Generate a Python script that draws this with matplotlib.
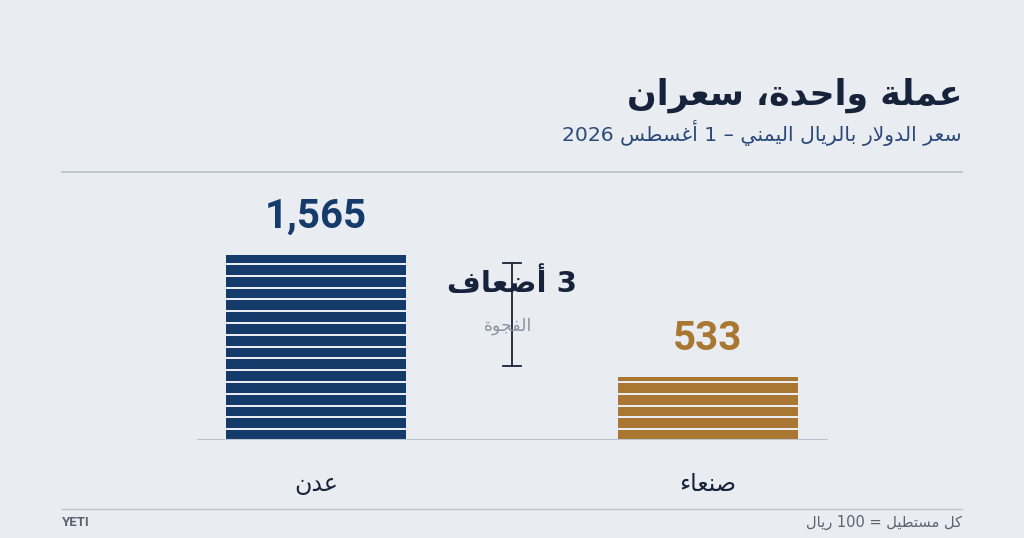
import matplotlib
matplotlib.use('Agg')
import matplotlib.pyplot as plt
from matplotlib.lines import Line2D

# data
cities = ['عدن', 'صنعاء']
rates = [1565, 533]
value_labels = ['1,565', '533']
bar_colors = ['#153b6b', '#aa7733']
unit = 100  # each stripe = 100 rial

title = 'عملة واحدة، سعران'
subtitle = 'سعر الدولار بالريال اليمني – 1 أغسطس 2026'
gap_label = '3 أضعاف'
gap_sub = 'الفجوة'
note = 'كل مستطيل = 100 ريال'
source = 'YETI'

BG = '#e9ecf1'
DARK = '#17233a'
GRID = '#bcc4cf'

# --- minimal Arabic shaping (matplotlib has no text shaping) ---
DUAL = {0x0626: 0xFE89, 0x0628: 0xFE8F, 0x062A: 0xFE95, 0x062B: 0xFE99,
        0x062C: 0xFE9D, 0x062D: 0xFEA1, 0x062E: 0xFEA5, 0x0633: 0xFEB1,
        0x0634: 0xFEB5, 0x0635: 0xFEB9, 0x0636: 0xFEBD, 0x0637: 0xFEC1,
        0x0638: 0xFEC5, 0x0639: 0xFEC9, 0x063A: 0xFECD, 0x0641: 0xFED1,
        0x0642: 0xFED5, 0x0643: 0xFED9, 0x0644: 0xFEDD, 0x0645: 0xFEE1,
        0x0646: 0xFEE5, 0x0647: 0xFEE9, 0x064A: 0xFEF1}
RIGHT = {0x0622: 0xFE81, 0x0623: 0xFE83, 0x0624: 0xFE85, 0x0625: 0xFE87,
         0x0627: 0xFE8D, 0x0629: 0xFE93, 0x062F: 0xFEA9, 0x0630: 0xFEAB,
         0x0631: 0xFEAD, 0x0632: 0xFEAF, 0x0648: 0xFEED, 0x0649: 0xFEEF}
NONE = {0x0621: 0xFE80}
LAMALEF = {0x0622: 0xFEF5, 0x0623: 0xFEF7, 0x0625: 0xFEF9, 0x0627: 0xFEFB}


def is_letter(c):
    return c is not None and (ord(c) in DUAL or ord(c) in RIGHT or ord(c) in NONE)


def joins_next(c):
    return c is not None and ord(c) in DUAL


def shape(text):
    # lam-alef ligatures first, keep a marker of their joining type
    chars = []
    i = 0
    while i < len(text):
        c = text[i]
        if ord(c) == 0x0644 and i + 1 < len(text) and ord(text[i + 1]) in LAMALEF:
            chars.append(('LA', LAMALEF[ord(text[i + 1])]))
            i += 2
        else:
            chars.append(('C', c))
            i += 1
    out = []
    for k, (kind, c) in enumerate(chars):
        prev = chars[k - 1] if k > 0 else None
        nxt = chars[k + 1] if k + 1 < len(chars) else None
        prev_joins = prev is not None and prev[0] == 'C' and joins_next(prev[1])
        nxt_letter = nxt is not None and (nxt[0] == 'LA' or (is_letter(nxt[1]) and ord(nxt[1]) not in NONE))
        if kind == 'LA':
            out.append(chr(c + (1 if prev_joins else 0)))
            continue
        o = ord(c)
        if o in DUAL:
            base = DUAL[o]
            if prev_joins and nxt_letter:
                out.append(chr(base + 3))
            elif prev_joins:
                out.append(chr(base + 1))
            elif nxt_letter:
                out.append(chr(base + 2))
            else:
                out.append(chr(base))
        elif o in RIGHT:
            out.append(chr(RIGHT[o] + (1 if prev_joins else 0)))
        elif o in NONE:
            out.append(chr(NONE[o]))
        else:
            out.append(c)
    # visual order: reverse, then restore left-to-right runs (digits/latin)
    s = ''.join(out)[::-1]
    res, run = [], []
    for ch in s:
        if ch.isascii() and (ch.isalnum() or ch in ',.'):
            run.append(ch)
        else:
            if run:
                res.append(''.join(run[::-1]))
                run = []
            res.append(ch)
    if run:
        res.append(''.join(run[::-1]))
    return ''.join(res)


plt.rcParams['font.family'] = ['DejaVu Sans']

fig = plt.figure(figsize=(10.24, 5.38), dpi=100, facecolor=BG)
W, H = 1024, 538

# axes: baseline from x=197 to 828 px, y=440 px; height 260 px
ax = fig.add_axes([197 / W, (H - 440) / H, 631 / W, 260 / H])
ax.set_facecolor(BG)
ax.patch.set_alpha(0)

xs = [0, 1]
bar_w = 0.459
gap = 17
for x, v, col in zip(xs, rates, bar_colors):
    k = 0
    while k * unit < v:
        y0 = k * unit
        y1 = min((k + 1) * unit, v)
        top = y1 if y1 >= v else y1 - gap
        ax.bar(x, top - y0, bottom=y0, width=bar_w, color=col, linewidth=0)
        k += 1

ax.axhline(0, color=GRID, lw=1.5, zorder=3)
ax.set_xlim(-0.3036, 1.3062)
ax.set_ylim(0, 2203)
ax.axis('off')

# value labels
for x, v, lab, col in zip(xs, rates, value_labels, bar_colors):
    ax.annotate(lab, (x, v), xytext=(0, 14), textcoords='offset points',
                ha='center', va='bottom', fontsize=29, fontweight='bold',
                color=col, family=['Roboto', 'DejaVu Sans'])

# category labels
for x, name in zip(xs, cities):
    ax.annotate(shape(name), (x, 0), xytext=(0, -32), textcoords='offset points',
                ha='center', va='center', fontsize=17, color=DARK)

# gap marker
gx = 0.5
top_g, bot_g = 1500, 630
ax.plot([gx, gx], [bot_g, top_g], color=DARK, lw=1.3, clip_on=False)
for yy in (bot_g, top_g):
    ax.plot([gx - 0.023, gx + 0.023], [yy, yy], color=DARK, lw=1.3, clip_on=False)
ax.text(gx, 1330, shape(gap_label), ha='center', va='center', fontsize=21,
        fontweight='bold', color=DARK)
ax.text(gx - 0.01, 965, shape(gap_sub), ha='center', va='center', fontsize=12.5,
        color='#8b94a2')

# header
fig.text(962 / W, 1 - 95 / H, shape(title), ha='right', va='center',
         fontsize=25, fontweight='bold', color=DARK)
fig.text(962 / W, 1 - 133 / H, shape(subtitle), ha='right', va='center',
         fontsize=14.7, color='#2b4a7a')
fig.add_artist(Line2D([62 / W, 962 / W], [1 - 172 / H] * 2, color=GRID, lw=1.3))

# footer
fig.add_artist(Line2D([62 / W, 962 / W], [1 - 509 / H] * 2, color=GRID, lw=1.0))
fig.text(62 / W, 1 - 522 / H, source, ha='left', va='center', fontsize=9.5,
         fontweight='bold', color='#5b6372', family=['Roboto', 'DejaVu Sans'])
fig.text(962 / W, 1 - 522 / H, shape(note), ha='right', va='center',
         fontsize=10.5, color='#5b6372')

fig.savefig('out.png', dpi=100, facecolor=BG)
